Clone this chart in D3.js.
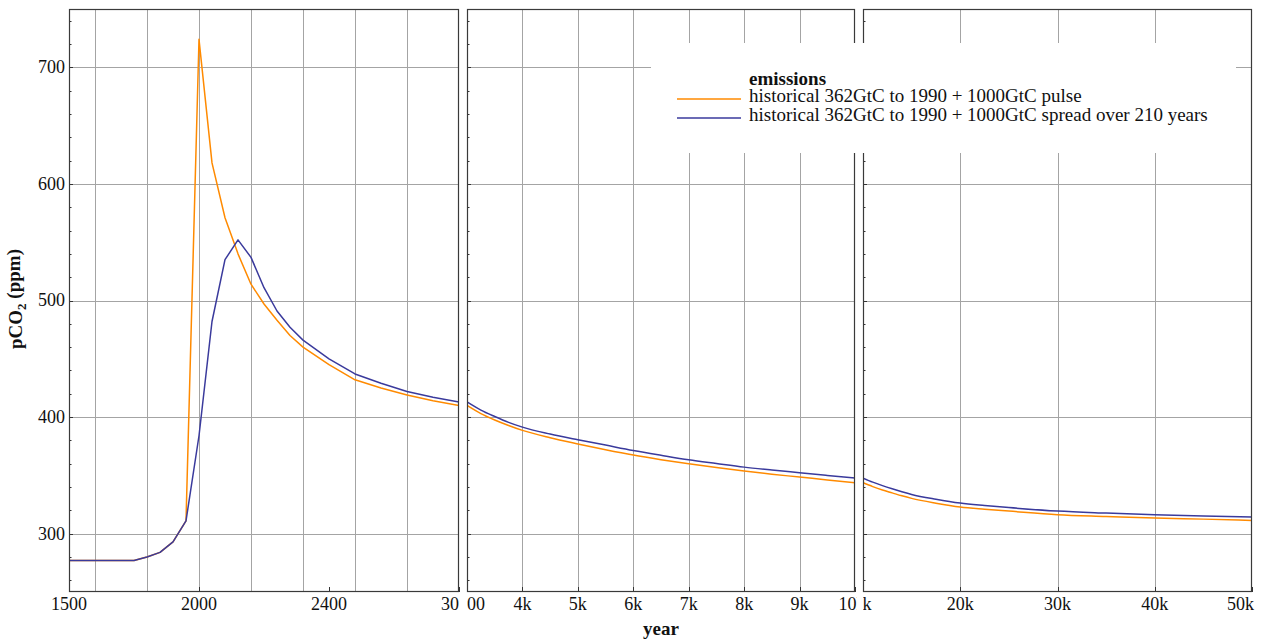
<!DOCTYPE html>
<html>
<head>
<meta charset="utf-8">
<script src="https://cdn.jsdelivr.net/npm/d3@7"></script>
<style>
  body { margin: 0; background: #fff; }
  text { font-family: "Liberation Serif", "Times New Roman", serif; fill: #111; }
</style>
</head>
<body>
<div id="chart"></div>
<script>
// ---- data ----
// panel 1 : 1500 - 3000
var yearsEarly  = [1500, 1750, 1800, 1850, 1900, 1950, 2000, 2050, 2100, 2150, 2200, 2250, 2300, 2350, 2400, 2500, 2600, 2700, 2800, 2900, 3000];
var pulseEarly  = [277, 277, 280, 284, 293, 311, 724, 618, 571, 540, 514, 497, 483, 470, 460, 445, 432, 425, 419, 414, 410];
var spreadEarly = [277, 277, 280, 284, 293, 311, 384, 482, 535, 552, 537, 511, 491, 477, 466, 450, 437, 429, 422, 417, 413];
// panel 2 : 3000 - 10000
var yearsMid  = [3000, 3250, 3500, 3750, 4000, 4500, 5000, 5500, 6000, 6500, 7000, 7500, 8000, 8500, 9000, 9500, 10000];
var pulseMid  = [410, 403, 397.5, 392.8, 388.6, 382.3, 377, 372, 367.4, 363.5, 360, 356.7, 353.7, 351, 348.6, 346.1, 343.7];
var spreadMid = [413, 406, 400.5, 395.5, 391.4, 385.5, 380.6, 376, 371.4, 367.3, 363.4, 360.2, 357.1, 354.6, 352.3, 350, 347.7];
// panel 3 : 10000 - 50000
var yearsLate  = [10000, 11000, 12000, 13000, 14000, 15000, 17500, 20000, 22500, 25000, 30000, 35000, 40000, 45000, 50000];
var pulseLate  = [343.7, 340.4, 337.5, 335, 332.5, 330.3, 326.2, 322.9, 321, 319.4, 316.3, 314.8, 313.4, 312.5, 311.4];
var spreadLate = [347.7, 344.2, 341.2, 338.5, 336, 333.7, 329.6, 326.3, 324.2, 322.4, 319.4, 317.7, 316.3, 315.2, 314.3];

var seriesNames = ["historical 362GtC to 1990 + 1000GtC pulse",
                   "historical 362GtC to 1990 + 1000GtC spread over 210 years"];
var seriesColors = ["#ff8a00", "#3a3a9c"];

var yTicks = [300, 400, 500, 600, 700];

var tickVals1 = [1500, 2000, 2500, 3000];
var tickLabels1 = ["1500", "2000", "2400", "3000"];
var gridVals1 = [1600, 1800, 2000, 2200, 2400, 2600, 2800];
var tickVals2 = [3000, 4000, 5000, 6000, 7000, 8000, 9000, 10000];
var tickLabels2 = ["3000", "4k", "5k", "6k", "7k", "8k", "9k", "10k"];
var gridVals2 = [4000, 5000, 6000, 7000, 8000, 9000];
var tickVals3 = [10000, 20000, 30000, 40000, 50000];
var tickLabels3 = ["10k", "20k", "30k", "40k", "50k"];
var gridVals3 = [20000, 30000, 40000];

// ---- layout ----
var W = 1265, H = 640;
var plotTop = 9, plotBottom = 592;
var tickFont = "18px";
var textFont = "19px";

var svg = d3.select("#chart").append("svg")
    .attr("width", W).attr("height", H);

var y = d3.scaleLinear().domain([250, 750]).range([plotBottom, plotTop]);

// labelShift moves the labels that sit on a panel seam (so each side shows a cut piece)
var panels = [
  { domain: [1500, 3000], range: [69, 459], years: yearsEarly, a: pulseEarly, b: spreadEarly,
    ticks: tickVals1, labels: tickLabels1, grid: gridVals1, clip: [0, 459], curve: d3.curveLinear,
    yLabels: true, labelShift: {} },
  { domain: [3000, 10000], range: [467, 855], years: yearsMid, a: pulseMid, b: spreadMid,
    ticks: tickVals2, labels: tickLabels2, grid: gridVals2, clip: [467, 857], curve: d3.curveMonotoneX,
    labelShift: { 10000: -3 } },
  { domain: [10000, 50000], range: [863, 1252], years: yearsLate, a: pulseLate, b: spreadLate,
    ticks: tickVals3, labels: tickLabels3, grid: gridVals3, clip: [863, W], curve: d3.curveMonotoneX,
    labelShift: { 10000: -5 }, lastEnd: true }
];

var defs = svg.append("defs");

panels.forEach(function(p, i) {
  var x = d3.scaleLinear().domain(p.domain).range(p.range);
  var x0 = p.range[0], x1 = p.range[1];
  var g = svg.append("g");

  defs.append("clipPath").attr("id", "plot" + i).append("rect")
      .attr("x", x0).attr("y", plotTop).attr("width", x1 - x0).attr("height", plotBottom - plotTop);
  defs.append("clipPath").attr("id", "lab" + i).append("rect")
      .attr("x", p.clip[0]).attr("y", 0).attr("width", p.clip[1] - p.clip[0]).attr("height", H);

  // grid lines
  g.selectAll(".vg").data(p.grid).enter().append("line")
      .attr("x1", function(d) { return Math.round(x(d)) + 0.5; })
      .attr("x2", function(d) { return Math.round(x(d)) + 0.5; })
      .attr("y1", plotTop).attr("y2", plotBottom)
      .attr("stroke", "#a4a4a4").attr("stroke-width", 1);
  g.selectAll(".hg").data(yTicks).enter().append("line")
      .attr("x1", x0).attr("x2", x1)
      .attr("y1", function(d) { return Math.round(y(d)) + 0.5; })
      .attr("y2", function(d) { return Math.round(y(d)) + 0.5; })
      .attr("stroke", "#a4a4a4").attr("stroke-width", 1);

  // y ticks on the left edge, major every 100 and minor every 20
  var minor = d3.range(260, 750, 20);
  g.selectAll(".yt").data(minor).enter().append("line")
      .attr("x1", x0).attr("x2", function(d) { return x0 + (d % 100 === 0 ? 4 : 2.5); })
      .attr("y1", function(d) { return Math.round(y(d)) + 0.5; })
      .attr("y2", function(d) { return Math.round(y(d)) + 0.5; })
      .attr("stroke", "#333").attr("stroke-width", 1);

  // x ticks
  g.selectAll(".xt").data(p.ticks).enter().append("line")
      .attr("x1", function(d) { return Math.round(x(d)) + 0.5; })
      .attr("x2", function(d) { return Math.round(x(d)) + 0.5; })
      .attr("y1", plotBottom).attr("y2", plotBottom - 5)
      .attr("stroke", "#333").attr("stroke-width", 1);

  // x tick labels, clipped to the panel so that edge labels are cut
  g.append("g").attr("clip-path", "url(#lab" + i + ")")
    .selectAll("text").data(p.ticks).enter().append("text")
      .attr("x", function(d, j) {
        if (p.lastEnd && j === p.ticks.length - 1) return x(d) + 2;
        return x(d) + (p.labelShift[d] || 0);
      })
      .attr("y", 610)
      .attr("text-anchor", function(d, j) { return (p.lastEnd && j === p.ticks.length - 1) ? "end" : "middle"; })
      .style("font-size", tickFont)
      .text(function(d, j) { return p.labels[j]; });

  if (p.yLabels) {
    g.selectAll(".yl").data(yTicks).enter().append("text")
        .attr("x", x0 - 4).attr("y", function(d) { return y(d); })
        .attr("dy", "0.33em")
        .attr("text-anchor", "end")
        .style("font-size", tickFont)
        .text(function(d) { return d; });
  }

  // series
  var plot = g.append("g").attr("clip-path", "url(#plot" + i + ")");
  [p.a, p.b].forEach(function(vals, k) {
    var line = d3.line()
        .x(function(d, j) { return x(p.years[j]); })
        .y(function(d) { return y(d); })
        .curve(p.curve);
    plot.append("path").datum(vals)
        .attr("d", line)
        .attr("fill", "none")
        .attr("stroke", seriesColors[k])
        .attr("stroke-width", 1.5)
        .attr("stroke-linejoin", "round");
  });

  // frame
  g.append("rect")
      .attr("x", x0 + 0.5).attr("y", plotTop + 0.5)
      .attr("width", x1 - x0 - 1).attr("height", plotBottom - plotTop - 1)
      .attr("fill", "none").attr("stroke", "#3a3a3a").attr("stroke-width", 1.2);
});

// legend box (white, covers grid and frames)
var lg = svg.append("g");
lg.append("rect").attr("x", 651).attr("y", 43).attr("width", 585).attr("height", 110).attr("fill", "#fff");
lg.append("text").attr("x", 749).attr("y", 84.5)
    .style("font-size", textFont).style("font-weight", "bold")
    .text("emissions");
seriesNames.forEach(function(name, k) {
  lg.append("line")
      .attr("x1", 677).attr("x2", 741)
      .attr("y1", 99 + 19 * k).attr("y2", 99 + 19 * k)
      .attr("stroke", seriesColors[k]).attr("stroke-width", 1.5);
  lg.append("text").attr("x", 749).attr("y", 101.7 + 19 * k)
      .style("font-size", textFont)
      .text(name);
});

// axis titles
svg.append("text")
    .attr("transform", "translate(22,299) rotate(-90)")
    .attr("text-anchor", "middle")
    .style("font-size", textFont).style("font-weight", "bold")
    .call(function(t) {
      t.append("tspan").text("pCO");
      t.append("tspan").attr("dy", "0.3em").style("font-size", "13px").text("2");
      t.append("tspan").attr("dy", "-0.3em").text(" (ppm)");
    });

svg.append("text")
    .attr("x", 661).attr("y", 635)
    .attr("text-anchor", "middle")
    .style("font-size", textFont).style("font-weight", "bold")
    .text("year");
</script>
</body>
</html>
